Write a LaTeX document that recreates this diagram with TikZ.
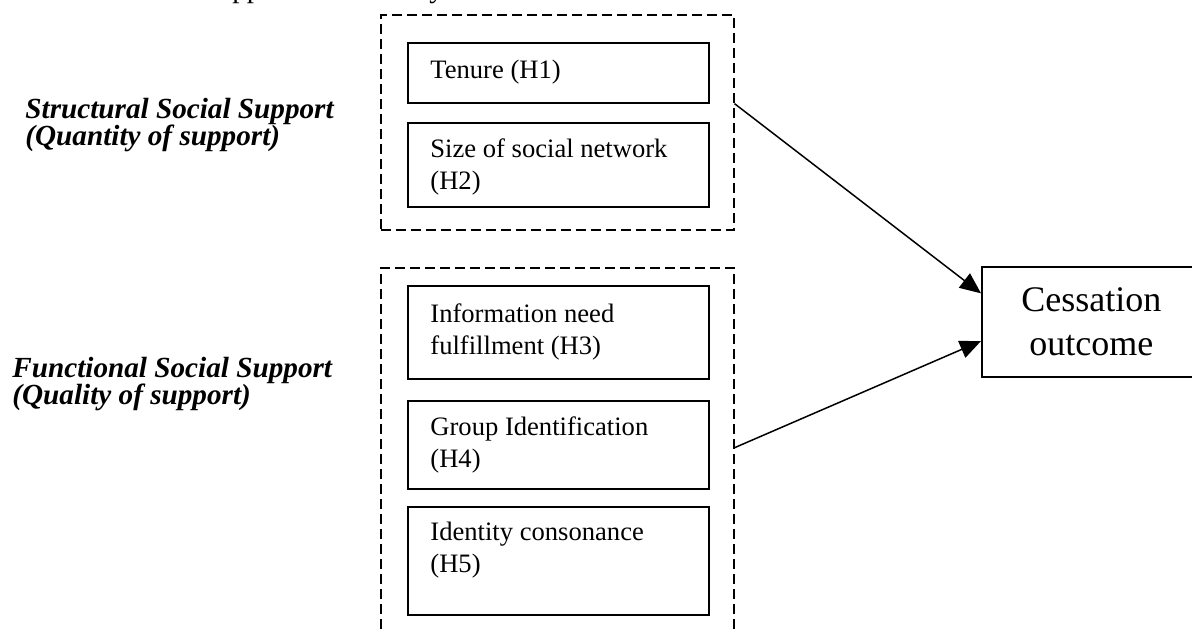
\documentclass[tikz,border=0pt]{standalone}
\usepackage{fontspec}
\setmainfont{Liberation Serif}
\usetikzlibrary{arrows.meta,calc}
% fixed first-line height so text nodes can be placed by their top edge
\newcommand\tallstrut{\vrule height 12pt depth 0pt width 0pt}
\begin{document}
\lineskiplimit=-\maxdimen
\begin{tikzpicture}[x=0.5pt,y=-0.5pt,
  group/.style={draw, rectangle, inner sep=0pt, line width=0.75pt,
    dash pattern=on 5pt off 2.5pt, minimum width=176.5pt, anchor=north west},
  factor/.style={draw, rectangle, inner sep=0pt, line width=0.75pt,
    minimum width=150.5pt, anchor=north west},
  factortext/.style={anchor=north west, inner sep=0pt, align=left,
    font=\fontsize{13.3}{16}\selectfont},
  dimension/.style={anchor=north west, inner sep=0pt, align=left,
    font=\fontsize{14.6}{13.5}\selectfont\bfseries\itshape},
  outcomebox/.style={draw, rectangle, inner sep=0pt, line width=0.75pt,
    minimum width=109.5pt, minimum height=55pt, anchor=north west,
    align=center, font=\fontsize{18}{21.5}\selectfont},
  effect/.style={-{Triangle[length=10.5pt,width=9pt]}, line width=0.75pt}
]
\useasboundingbox (0,0) rectangle (1192,632);

% caption line running above the frame
\node[anchor=base west, inner sep=0pt, font=\fontsize{14.6}{16}\selectfont]
  (caption) at (206,-2.3) {support in this study};

% structural social support
\node[group, minimum height=107.5pt] (structural) at (380,14) {};
\node[factor, minimum height=30pt] (tenure) at (407,42) {};
\node[factortext] (tenure-t) at (430,54) {\tallstrut Tenure (H1)};
\node[factor, minimum height=42pt] (size) at (407,122) {};
\node[factortext] (size-t) at (430,133) {\tallstrut Size of social network\\(H2)};

% functional social support
\node[group, minimum height=191.5pt] (functional) at (380,267) {};
\node[factor, minimum height=46.5pt] (info) at (407,285) {};
\node[factortext] (info-t) at (430,298) {\tallstrut Information need\\fulfillment (H3)};
\node[factor, minimum height=44pt] (ident) at (407,400) {};
\node[factortext] (ident-t) at (430,411) {\tallstrut Group Identification\\(H4)};
\node[factor, minimum height=54pt] (consonance) at (407,506) {};
\node[factortext] (consonance-t) at (430,516) {\tallstrut Identity consonance\\(H5)};

% dimension labels
\node[dimension] (structural-l) at (25,94)
  {\tallstrut Structural Social Support\\(Quantity of support)};
\node[dimension] (functional-l) at (12,353)
  {\tallstrut Functional Social Support\\(Quality of support)};

% outcome
\node[outcomebox] (outcome) at (981,266) {Cessation\\outcome};

% effects on the outcome
\draw[effect] ($(structural.north east)!0.414!(structural.south east)$)
  -- ($(outcome.north west)!0.245!(outcome.south west)$);
\draw[effect] ($(functional.north east)!0.47!(functional.south east)$)
  -- ($(outcome.north west)!0.673!(outcome.south west)$);
\end{tikzpicture}
\end{document}
